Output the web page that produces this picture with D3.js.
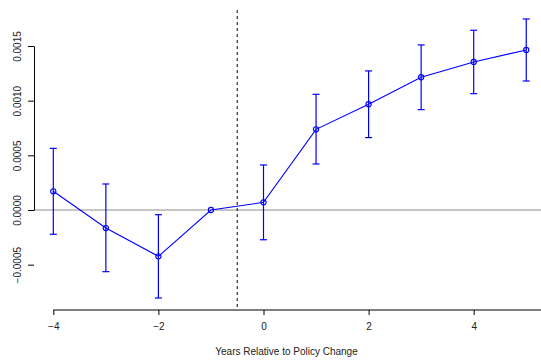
<!DOCTYPE html>
<html><head><meta charset="utf-8">
<script src="https://cdn.jsdelivr.net/npm/d3@7"></script>
<style>body{margin:0;background:#fff}svg{display:block}</style>
</head><body>
<svg id="c" width="541" height="364"></svg>
<script>
const years = [-4,-3,-2,-1,0,1,2,3,4,5];
const estimate = [0.000171,-0.000165,-0.000424,0,0.00007,0.000738,0.000967,0.001214,0.001354,0.001464];
const upper = [0.000564,0.000238,-0.000043,null,0.000412,0.001058,0.001272,0.00151,0.001644,0.001747];
const lower = [-0.000222,-0.000564,-0.000805,null,-0.000272,0.000421,0.000662,0.000918,0.001064,0.00118];
const xTicks = [-4,-2,0,2,4];
const yTicks = [-0.0005,0,0.0005,0.001,0.0015];
const yTickLabels = ["-0.0005","0.0000","0.0005","0.0010","0.0015"];
const xTitle = "Years Relative to Policy Change";
const policyLine = -0.5;

const svg = d3.select("#c");
const font = "'Liberation Sans', Arial, sans-serif";
const x = d3.scaleLinear().domain([-4,4]).range([53.3,473.7]);
const y = d3.scaleLinear().domain([0,0.0015]).range([210,46]);
const plotL = 34, plotR = 541, plotT = 10, plotB = 310;
const blue = "#0000ff";

// reference lines
svg.append("line").attr("x1",plotL).attr("x2",plotR).attr("y1",y(0)).attr("y2",y(0))
  .attr("stroke","#8c8c8c").attr("stroke-width",1);
svg.append("line").attr("x1",x(policyLine)).attr("x2",x(policyLine)).attr("y1",plotT).attr("y2",plotB)
  .attr("stroke","#000").attr("stroke-width",1).attr("stroke-dasharray","3,3");

// y axis
const gy = svg.append("g").attr("transform",`translate(${plotL},0)`)
  .call(d3.axisLeft(y).tickValues(yTicks).tickSize(6).tickSizeOuter(0)
    .tickFormat((d,i)=>yTickLabels[i].replace("-","\u2212")));
gy.select(".domain").attr("stroke","#000");
gy.selectAll(".tick line").attr("stroke","#000");
gy.selectAll(".tick text").attr("font-family",font).attr("font-size",10).attr("fill","#222")
  .attr("transform","rotate(-90)").attr("text-anchor","middle").attr("x",0).attr("y",-13).attr("dy","0");

// x axis
const gx = svg.append("g").attr("transform",`translate(0,${plotB})`)
  .call(d3.axisBottom(x).tickValues(xTicks).tickSize(5).tickSizeOuter(0)
    .tickFormat(d=>String(d).replace("-","\u2212")));
gx.select(".domain").attr("d",`M${x(-4)},0H${plotR}`).attr("stroke","#000");
gx.selectAll(".tick line").attr("stroke","#000");
gx.selectAll(".tick text").attr("font-family",font).attr("font-size",10).attr("fill","#222").attr("y",13);

svg.append("text").attr("x",(plotL+539)/2).attr("y",355).attr("text-anchor","middle")
  .attr("font-family",font).attr("font-size",10).attr("fill","#222").text(xTitle);

// error bars
const eb = years.map((yr,i)=>({yr,lo:lower[i],hi:upper[i]})).filter(d=>d.lo!==null);
const g = svg.append("g");
eb.forEach(d=>{
  g.append("line").attr("x1",x(d.yr)).attr("x2",x(d.yr)).attr("y1",y(d.lo)).attr("y2",y(d.hi))
    .attr("stroke",blue).attr("stroke-width",1.2);
  [d.lo,d.hi].forEach(v=>g.append("line").attr("x1",x(d.yr)-3.5).attr("x2",x(d.yr)+3.5)
    .attr("y1",y(v)).attr("y2",y(v)).attr("stroke",blue).attr("stroke-width",1.2));
});

// line
const pts = years.map((yr,i)=>[yr,estimate[i]]);
svg.append("path").datum(pts).attr("fill","none").attr("stroke",blue).attr("stroke-width",1.1)
  .attr("d",d3.line().x(d=>x(d[0])).y(d=>y(d[1])));
svg.selectAll("circle.pt").data(pts).join("circle").attr("class","pt")
  .attr("cx",d=>x(d[0])).attr("cy",d=>y(d[1])).attr("r",2.6)
  .attr("fill","none").attr("stroke",blue).attr("stroke-width",1.1);
</script>
</body></html>
